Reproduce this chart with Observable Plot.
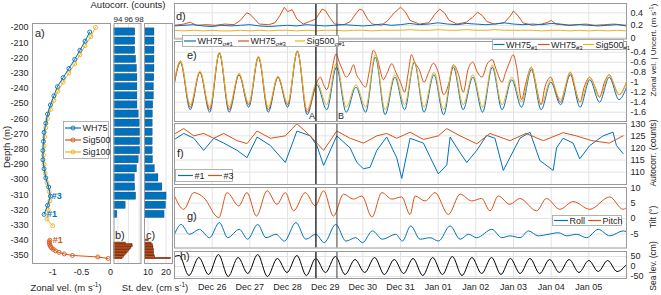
<!DOCTYPE html>
<html><head><meta charset="utf-8">
<script src="https://cdn.jsdelivr.net/npm/d3@7"></script>
<script src="https://cdn.jsdelivr.net/npm/@observablehq/plot@0.6"></script>
<style>
body{margin:0;background:#fff;}
#root{position:relative;width:661px;height:295px;overflow:hidden;background:#fff;font-family:"Liberation Sans",Arial,sans-serif;color:#262626;}
.t{position:absolute;white-space:nowrap;font-size:9.5px;line-height:1;}
.rot{position:absolute;white-space:nowrap;font-size:8.5px;line-height:1;transform:translate(-50%,-50%) rotate(-90deg);}
.lbl{position:absolute;white-space:nowrap;font-size:11px;line-height:1;}
</style></head><body><div id="root"></div>
<script>
// ---------------- DATA ----------------
// Panel a: zonal velocity profiles (depth m, velocity m/s)
const wh75Depth = [-203,-209,-215,-221,-227,-233,-239,-245,-251,-257,-263,-269,-275,-281,-287,-293,-299,-305,-311,-317,-323];
const wh75Vel   = [-0.36,-0.44,-0.53,-0.62,-0.72,-0.82,-0.92,-0.98,-1.04,-1.09,-1.12,-1.15,-1.16,-1.17,-1.17,-1.15,-1.12,-1.07,-1.04,-1.09,-1.15];
const sig100Depth = [-200,-206,-212,-218,-224,-230,-236,-242,-248,-254,-260,-266,-272,-278,-284,-290,-296,-302,-308,-314,-320,-326,-330.5];
const sig100Vel   = [-0.26,-0.34,-0.44,-0.53,-0.62,-0.72,-0.82,-0.91,-0.98,-1.04,-1.09,-1.12,-1.14,-1.15,-1.16,-1.15,-1.13,-1.10,-1.06,-1.05,-1.08,-1.10,-1.00];
const sig500Depth = [-340,-341,-342,-343,-344,-345,-346,-347,-348,-349,-350,-351,-352];
const sig500Vel   = [-1.05,-1.06,-1.06,-1.05,-1.04,-1.02,-0.99,-0.95,-0.89,-0.80,-0.66,-0.22,-0.04];
// Panel b: autocorrelation (counts); panel c: st. dev. (cm/s)
const wh75Autocorr = [97.26,97.26,97.26,97.43,97.59,97.67,97.67,97.67,97.67,97.91,98.09,98.17,98.17,98.17,97.91,97.59,97.18,97.26,97.43,95.45,93.88];
const wh75StDev    = [13.6,13.6,13.6,13.6,13.6,13.5,13.3,13.3,12.9,12.7,12.6,12.6,12.6,12.6,12.8,13.8,15.8,18.0,20.3,20.0,19.2];
const sig500Autocorr = [null,null,95.51,96.74,96.83,96.55,96.36,96.08,95.86,95.61,95.36,95.12,94.86];
const sig500StDev    = [10.5,null,12.0,12.6,13.0,13.0,13.2,13.3,13.4,13.4,13.6,14.0,22.8];
const annotA = [{v:-1.07,d:-311,s:"#3",c:"blue"},{v:-1.15,d:-323,s:"#1",c:"blue"},{v:-1.05,d:-340,s:"#1",c:"red"}];

// Time series: hours since Dec 25 00:00
const eventTimes = [90.1, 103.5]; const eventNames = ["A","B"];
// d) uncertainty (m/s)
const dTimes6 = d3.range(0, 289, 6);
const uncWH75_1 = [0.19,0.2,0.21,0.19,0.18,0.2,0.19,0.2,0.21,0.19,0.18,0.19,0.2,0.19,0.21,0.2,0.19,0.2,0.21,0.2,0.19,0.2,0.22,0.2,0.21,0.23,0.21,0.22,0.24,0.22,0.21,0.23,0.22,0.21,0.22,0.24,0.22,0.21,0.22,0.21,0.23,0.22,0.2,0.21,0.2,0.19,0.2,0.21,0.19];
const uncSig500_1 = [0.12,0.11,0.12,0.11,0.12,0.11,0.11,0.12,0.11,0.12,0.11,0.12,0.12,0.11,0.12,0.11,0.12,0.12,0.11,0.12,0.12,0.11,0.12,0.12,0.12,0.13,0.12,0.12,0.13,0.12,0.12,0.13,0.12,0.12,0.13,0.12,0.12,0.12,0.12,0.11,0.12,0.12,0.11,0.12,0.11,0.12,0.11,0.12,0.11];
const uncWH75_3T = [0,6,10,14,20,26,32,38,42,46,48,51,54,60,64,67,70,72,75,78,82,86,90,92,94,96,99,102,108,112,116,118,120,123,126,132,136,140,144,147,150,156,162,166,169,172,175,180,186,190,193,196,199,204,210,214,216,219,222,228,234,238,240,243,250,256,262,268,274,280,288];
const uncWH75_3 = [0.2,0.22,0.25,0.2,0.21,0.2,0.22,0.21,0.28,0.4,0.38,0.3,0.22,0.21,0.24,0.35,0.49,0.42,0.45,0.3,0.22,0.26,0.3,0.38,0.46,0.44,0.32,0.22,0.21,0.26,0.4,0.46,0.44,0.3,0.22,0.2,0.28,0.4,0.49,0.42,0.28,0.22,0.24,0.38,0.46,0.4,0.28,0.22,0.25,0.33,0.41,0.36,0.26,0.22,0.24,0.35,0.43,0.35,0.24,0.2,0.22,0.25,0.28,0.22,0.2,0.21,0.22,0.2,0.21,0.22,0.2];
// e) zonal velocity (m/s) at tidal extrema
const eTimes = [0,3.8,10,16.2,22.4,28.6,34.8,41.1,47.3,53.5,59.7,65.9,72.1,78.3,84.5,90.7,97,103.2,109.4,115.6,121.8,128,134.2,140.4,146.6,152.8,159,165.3,171.5,177.7,183.9,190.1,196.3,202.5,208.7,214.9,221.1,227.4,233.6,239.8,246,252.2,258.4,264.6,270.8,277,283.2,288];
const velWH75_1 = [-1.0,-0.6,-1.55,-0.8,-1.6,-0.42,-1.6,-0.85,-1.5,-0.5,-1.6,-0.9,-1.5,-0.38,-1.65,-1.05,-1.55,-0.7,-1.6,-1.1,-1.6,-0.5,-1.65,-0.9,-1.55,-0.6,-1.6,-0.85,-1.65,-0.7,-1.55,-0.9,-1.6,-0.7,-1.55,-0.95,-1.5,-0.75,-1.55,-1.0,-1.45,-0.85,-1.5,-0.95,-1.4,-0.9,-1.35,-1.1];
const velSig500_1 = [-0.95,-0.57,-1.45,-0.78,-1.5,-0.4,-1.5,-0.82,-1.42,-0.48,-1.5,-0.88,-1.42,-0.37,-1.55,-1.0,-1.45,-0.62,-1.5,-1.05,-1.5,-0.45,-1.55,-0.85,-1.45,-0.58,-1.5,-0.8,-1.55,-0.65,-1.45,-0.85,-1.5,-0.65,-1.45,-0.9,-1.4,-0.7,-1.45,-0.95,-1.35,-0.8,-1.4,-0.9,-1.3,-0.85,-1.25,-1.0];
const velWH75_3T = [0,3.8,10,16.2,22.4,28.6,34.8,41.1,47.3,53.5,59.7,65.9,72.1,78.3,84.5,88,90.7,93,95,97,100,103,105,107,109.4,112,114,116,118,121.8,124,126.7,129,131,133,135,138.5,141,144,146.6,149,151,153,156,159,162,165,168,171.5,175,177.7,181,184,187,190,193,196,199,202.5,205,208.7,211,213.5,215.8,218,221.1,224,227.4,230,233.6,236,239.8,243,246,249,252.2,255,258.4,261,264.6,268,270.8,274,277,280,283.2,288];
const velWH75_3 = [-1.0,-0.6,-1.5,-0.8,-1.55,-0.42,-1.55,-0.85,-1.45,-0.5,-1.55,-0.9,-1.45,-0.38,-1.6,-1.3,-1.0,-0.9,-1.05,-1.15,-0.8,-0.43,-0.6,-0.75,-0.9,-0.8,-0.65,-0.85,-0.95,-1.1,-0.8,-0.36,-0.5,-0.75,-0.95,-0.85,-0.63,-0.8,-1.0,-1.2,-0.8,-0.45,-0.6,-0.75,-1.0,-0.8,-0.62,-0.8,-1.25,-1.0,-0.65,-0.85,-1.2,-0.75,-0.6,-0.8,-0.9,-0.65,-0.55,-0.75,-1.0,-0.8,-0.6,-0.45,-0.7,-1.35,-1.0,-0.7,-1.0,-1.45,-1.1,-0.9,-1.2,-1.4,-1.1,-0.8,-1.1,-1.4,-1.1,-0.9,-1.1,-1.3,-1.0,-0.85,-1.05,-1.25,-1.0];
// f) autocorrelation (counts)
const acT1 = [0.6,5.9,12.3,18.6,25,31.4,39.9,46.2,52.6,61.1,70.6,78,86.5,90.7,95,103.4,111.9,116.2,120.4,124.6,128.9,135.2,141.6,144.8,150.1,158.6,162.9,168.1,173.5,175.6,182,186.2,192.6,198.9,204.2,209.5,213.7,220.1,226.5,232.8,241.3,243.4,247.6,254,258.2,264.6,273.1,279.4,281.6,285.8];
const acWH75_1 = [123.8,126,124,119,124,122,119,116,124.5,121,114,127,125,121,112.8,125,120,114,111.4,112,119,124.5,116,107.4,124,122,116.2,109.3,113,124.5,118,114,119,125.2,124,110.7,116,124,126.5,114.8,110.7,120,124,122,115.5,121,125,126.5,121,117.7];
const acT3 = [0.6,5.9,12.3,18.6,25,31.4,39.9,46.2,52.6,61.1,70.6,78,86.5,90.7,95,103.4,111.9,120.4,128.9,135.2,141.6,150.1,158.6,168.1,173.5,182,192.6,201,213.7,224,235,247.6,256,266,277,285.8];
const acWH75_3 = [126,128,125,126,124,126,123,121.8,127,124,125,130,125,122,119,127,124,122,125,126,124,126.5,123.5,125,128,125,121.7,126,123,126,123,126.3,125,123,122,125];
// g) tilt (deg)
const pitchT = [0,5.9,12.3,18.6,28.2,33.5,40.9,46.2,52.2,59,65.3,70.6,75.9,83.3,89.7,95,101.3,107.7,114,119.4,125.8,132.1,138.5,144.8,150.1,153.3,159.7,166,174.5,182,189.4,195.7,201,206.3,213.7,220,230.7,237,245.5,254,264.6,277.3,285.8,288];
const pitch = [7.3,3.0,8.4,6.8,0.3,8.4,4.1,8.4,0.8,9.0,4.6,8.4,2.5,8.4,4.1,9.0,0.8,7.9,6.3,7.3,0.5,8.4,6.3,7.0,1.3,7.3,5.7,8.4,1.3,7.9,5.7,6.5,2.5,7.3,4.6,6.5,2.5,6.5,3.0,5.5,3.0,7.0,3.0,3.5];
const rollT = [0,4.2,9.5,15.9,22.3,28.6,33.9,41.3,46.6,53,58.3,64.7,70,77.4,83.7,90.1,95.4,102.8,109.2,115.5,119.8,126.1,132.5,141,145.2,150.5,156.5,162.9,168.2,175.6,182,187.3,192.6,202.2,208.5,213.8,220.2,225.5,231.8,238.2,244.6,249.9,256.2,262.6,270,277.4,285.9,288];
const roll = [-5.1,-1.9,-5.1,-3.5,-6.2,-1.3,-6.2,-3.5,-6.7,-1.9,-6.2,-5.1,-7.3,-1.3,-6.7,-5.1,-7.8,-1.9,-7.3,-6.2,-7.8,-4.0,-6.7,-5.1,-7.3,-2.4,-6.7,-6.2,-7.3,-2.4,-6.7,-5.1,-6.2,-3.5,-6.2,-5.6,-6.2,-4.0,-5.6,-5.1,-4.6,-5.6,-5.1,-6.2,-3.5,-5.6,-4.0,-4.3];
// h) sea level (cm) at extrema
const seaT = [0,3,9.2,15.5,21.7,28,34.2,40.5,46.7,53,59.2,65.5,71.7,78,84,90,96.2,102.5,108.7,115,121.2,127.5,133.7,140,146,152,158.2,164.5,170.7,177,183.2,189.5,195.7,202,208,214,220.2,226.5,232.7,239,245.2,251.5,257.7,264,270,276,282,288];
const seaLev = [50,55,-45,45,-40,60,-50,45,-35,60,-50,40,-30,55,-45,40,-30,50,-40,35,-30,45,-40,35,-35,40,-45,45,-40,50,-45,45,-35,45,-40,40,-35,40,-35,35,-30,35,-30,30,-25,30,-25,10];
// tick values
const dayTicksH = d3.range(24, 265, 24);

// ---------------- HELPERS ----------------
const root = document.getElementById("root");
const C = {blue:"#0072BD", red:"#D95319", yellow:"#EDB120", black:"#000"};
const T0 = Date.UTC(2017, 11, 25);
const toDate = h => new Date(T0 + h * 3600e3);
const fmt = d => String(d);
const FONT = '"Liberation Sans", Arial, sans-serif';
const GRID = "#e3e3e3", FRAME = "#9a9a9a";
function place(node, left, top) {
  node.style.position = "absolute"; node.style.left = left + "px"; node.style.top = top + "px";
  root.appendChild(node);
}
function text(cls, html, x, y, extra = "") {
  const d = document.createElement("div"); d.className = cls; d.innerHTML = html;
  d.style.cssText += `left:${x}px;top:${y}px;` + extra; root.appendChild(d); return d;
}
const series = (T, V) => T.map((t, i) => ({t: toDate(t), v: V[i]})).filter(d => d.v != null);
const dayTicks = dayTicksH.map(toDate);
const events = eventTimes.map((t, i) => ({t: toDate(t), n: eventNames[i]}));

function tsPanel({top, bottom, domain, ticks, marks, xAxis = false}) {
  const mt = 1, mb = xAxis ? 20 : 1;
  const svg = Plot.plot({
    width: 661, height: bottom - top + mt + mb,
    marginLeft: 174, marginRight: 35, marginTop: mt, marginBottom: mb,
    style: {background: "transparent", fontFamily: FONT, fontSize: "9px", color: "#262626", overflow: "visible"},
    x: {type: "utc", domain: [toDate(0), toDate(288)], axis: null},
    y: {domain, axis: null},
    marks: [
      Plot.gridX(dayTicks, {stroke: GRID, strokeOpacity: 1}),
      Plot.gridY(ticks, {stroke: GRID, strokeOpacity: 1}),
      ...marks,
      Plot.ruleX(events, {x: "t", stroke: "#3c3c3c", strokeWidth: (d) => d.n === "A" ? 1.6 : 1}),
      Plot.frame({stroke: FRAME}),
      Plot.axisY(ticks, {anchor: "right", tickSize: 0, tickPadding: 4, tickFormat: fmt, label: null}),
      xAxis ? Plot.axisX(dayTicks, {anchor: "bottom", tickSize: 0, tickPadding: 5, tickFormat: d3.utcFormat("%b %d"), label: null}) : null
    ]
  });
  place(svg, 0, top - mt);
}
const ln = (data, color, curve = "linear", w = 1) => Plot.line(data, {x: "t", y: "v", stroke: color, strokeWidth: w, curve});

// ---------------- PANEL a ----------------
const prof = (D, V) => D.map((d, i) => ({d, v: V[i]}));
const pW = prof(wh75Depth, wh75Vel), pS1 = prof(sig100Depth, sig100Vel), pS5 = prof(sig500Depth, sig500Vel);
const yDepth = {domain: [-355.3, -197.4], axis: null};
place(Plot.plot({
  width: 112, height: 295, marginLeft: 32, marginRight: 2, marginTop: 23, marginBottom: 32,
  style: {background: "transparent", fontFamily: FONT, fontSize: "9px", color: "#262626", overflow: "visible"},
  x: {domain: [-1.35, 0], axis: null}, y: yDepth,
  marks: [
    Plot.line(pS1, {x: "v", y: "d", stroke: C.yellow, strokeWidth: 1}),
    Plot.dot(pS1, {x: "v", y: "d", r: 2, stroke: C.yellow, strokeWidth: 0.9}),
    Plot.line(pW, {x: "v", y: "d", stroke: C.blue, strokeWidth: 1}),
    Plot.dot(pW, {x: "v", y: "d", r: 2, stroke: C.blue, strokeWidth: 0.9}),
    Plot.line(pS5, {x: "v", y: "d", stroke: C.red, strokeWidth: 1}),
    Plot.dot(pS5, {x: "v", y: "d", r: 2, stroke: C.red, strokeWidth: 0.9}),
    Plot.text(annotA, {x: "v", y: "d", text: "s", fill: d => C[d.c], dx: 3, textAnchor: "start", fontSize: 9, fontWeight: "bold"}),
    Plot.frame({stroke: FRAME}),
    Plot.axisX([-1, -0.5, 0], {tickSize: 0, tickPadding: 5, tickFormat: fmt, label: null}),
    Plot.axisY(d3.range(-350, -199, 10), {anchor: "left", tickSize: 0, tickPadding: 4, tickFormat: fmt, label: null})
  ]
}), 0, 0);

// ---------------- PANELS b, c ----------------
const bars = (D, V, half) => D.map((d, i) => ({d1: d - half, d2: d + half, v: V[i]})).filter(r => r.v != null);
place(Plot.plot({
  width: 34, height: 295, marginLeft: 3.5, marginRight: 3.5, marginTop: 23, marginBottom: 32,
  style: {background: "transparent", fontFamily: FONT, fontSize: "8px", color: "#262626", overflow: "visible"},
  x: {domain: [93.25, 98.34], axis: null}, y: yDepth,
  marks: [
    Plot.gridX([94, 96, 98], {stroke: GRID, strokeOpacity: 1}),
    Plot.rectX(bars(wh75Depth, wh75Autocorr, 2.4), {x1: 0, x2: "v", y1: "d1", y2: "d2", fill: C.blue, stroke: "#1b3550", strokeWidth: 0.3, clip: true}),
    Plot.rectX(bars(sig500Depth, sig500Autocorr, 0.5), {x1: 0, x2: "v", y1: "d1", y2: "d2", fill: C.red, stroke: "#3a1a08", strokeWidth: 0.45, clip: true}),
    Plot.frame({stroke: FRAME}),
    Plot.axisX([94, 96, 98], {anchor: "top", tickSize: 0, tickPadding: 2, tickFormat: fmt, label: null})
  ]
}), 110, 0);
place(Plot.plot({
  width: 34, height: 295, marginLeft: 3, marginRight: 3, marginTop: 23, marginBottom: 32,
  style: {background: "transparent", fontFamily: FONT, fontSize: "9px", color: "#262626", overflow: "visible"},
  x: {domain: [8.06, 23.6], axis: null}, y: yDepth,
  marks: [
    Plot.gridX([10, 20], {stroke: GRID, strokeOpacity: 1}),
    Plot.rectX(bars(wh75Depth, wh75StDev, 2.4), {x1: 0, x2: "v", y1: "d1", y2: "d2", fill: C.blue, stroke: "#1b3550", strokeWidth: 0.3, clip: true}),
    Plot.rectX(bars(sig500Depth, sig500StDev, 0.5), {x1: 0, x2: "v", y1: "d1", y2: "d2", fill: C.red, stroke: "#3a1a08", strokeWidth: 0.45, clip: true}),
    Plot.frame({stroke: FRAME}),
    Plot.axisX([10, 20], {tickSize: 0, tickPadding: 5, tickFormat: fmt, label: null})
  ]
}), 141, 0);

// ---------------- PANELS d-h ----------------
tsPanel({top: 3, bottom: 38.5, domain: [-0.02, 0.55], ticks: [0, 0.2, 0.4], marks: [
  ln(series(dTimes6, uncSig500_1), C.yellow), ln(series(uncWH75_3T, uncWH75_3), C.red), ln(series(dTimes6, uncWH75_1), C.blue)]});
tsPanel({top: 41, bottom: 121, domain: [-1.786, -0.186], ticks: [-1.6, -1.4, -1.2, -1, -0.8, -0.6, -0.4], marks: [
  ln(series(eTimes, velWH75_1), C.blue, "monotone-x"), ln(series(velWH75_3T, velWH75_3), C.red, "monotone-x"), ln(series(eTimes, velSig500_1), C.yellow, "monotone-x")]});
tsPanel({top: 123, bottom: 184, domain: [104.9, 130.1], ticks: [110, 115, 120, 125, 130], marks: [
  ln(series(acT1, acWH75_1), C.blue), ln(series(acT3, acWH75_3), C.red)]});
tsPanel({top: 186.5, bottom: 247, domain: [-9.54, 10.06], ticks: [-5, 0, 5, 10], marks: [
  ln(series(pitchT, pitch), C.red, "monotone-x"), ln(series(rollT, roll), C.blue, "monotone-x")]});
tsPanel({top: 251, bottom: 278, domain: [-60, 75], ticks: [-50, 0, 50], xAxis: true, marks: [
  ln(series(seaT, seaLev), C.black, "monotone-x")]});

// ---------------- LEGENDS (svg overlays) ----------------
function legendSVG(x, y, w, h, items) {
  const ns = "http://www.w3.org/2000/svg";
  const s = document.createElementNS(ns, "svg");
  s.setAttribute("width", w); s.setAttribute("height", h);
  s.style.cssText = `position:absolute;left:${x}px;top:${y}px;overflow:visible;font-family:${FONT};`;
  let html = `<rect x="0.5" y="0.5" width="${w - 1}" height="${h - 1}" fill="#fff" stroke="#a0a0a0" stroke-width="0.8"/>`;
  for (const it of items) {
    html += `<line x1="${it.x1}" x2="${it.x2}" y1="${it.y}" y2="${it.y}" stroke="${it.c}" stroke-width="1.2"/>`;
    if (it.m) html += `<circle cx="${(it.x1 + it.x2) / 2}" cy="${it.y}" r="2" fill="none" stroke="${it.c}" stroke-width="0.9"/>`;
    html += `<text x="${it.x2 + 1.5}" y="${it.y + 3.2}" font-size="9" fill="#262626">${it.t}${it.sub ? `<tspan font-size="6" dy="1.8">${it.sub}</tspan>` : ""}</text>`;
  }
  s.innerHTML = html; root.appendChild(s);
}
legendSVG(182, 35, 157, 12, [
  {x1: 2, x2: 14, y: 6, c: C.blue, t: "WH75", sub: "σ#1"},
  {x1: 56, x2: 67, y: 6, c: C.red, t: "WH75", sub: "σ#3"},
  {x1: 113, x2: 123, y: 6, c: C.yellow, t: "Sig500", sub: "σ#1"}]);
legendSVG(492, 38.5, 132, 11, [
  {x1: 1.5, x2: 12.5, y: 5.5, c: C.blue, t: "WH75", sub: "#1"},
  {x1: 46, x2: 57.5, y: 5.5, c: C.red, t: "WH75", sub: "#3"},
  {x1: 91, x2: 102, y: 5.5, c: C.yellow, t: "Sig500", sub: "#1"}]);
legendSVG(175, 169, 58, 13, [
  {x1: 3, x2: 18, y: 6.5, c: C.blue, t: "#1"},
  {x1: 33, x2: 47, y: 6.5, c: C.red, t: "#3"}]);
legendSVG(552, 214.5, 70, 11, [
  {x1: 2, x2: 16, y: 5.5, c: C.blue, t: "Roll"},
  {x1: 36, x2: 49, y: 5.5, c: C.red, t: "Pitch"}]);
legendSVG(63, 121, 46, 38, [
  {x1: 2, x2: 18, y: 7, c: C.blue, t: "WH75", m: true},
  {x1: 2, x2: 18, y: 19, c: C.red, t: "Sig500", m: true},
  {x1: 2, x2: 18, y: 31, c: C.yellow, t: "Sig100", m: true}]);

// ---------------- TEXT ----------------
text("lbl", "a)", 35, 28);
text("lbl", "b)", 115, 230);
text("lbl", "c)", 146, 230);
text("lbl", "d)", 176, 11);
text("lbl", "e)", 187, 50);
text("lbl", "f)", 177, 148);
text("lbl", "g)", 187, 211);
text("lbl", "h)", 180, 251);
text("t", "A", 309, 112, "font-size:9px;");
text("t", "B", 338, 112, "font-size:9px;");
text("t", "Autocorr. (counts)", 128, 5, "transform:translate(-50%,-50%);");
text("t", "Zonal vel. (m s<sup style='font-size:6.5px'>-1</sup>)", 66, 287, "transform:translate(-50%,-50%);");
text("t", "St. dev. (cm s<sup style='font-size:6.5px'>-1</sup>)", 155, 287, "transform:translate(-50%,-50%);");
text("rot", "Depth (m)", 7, 147, "font-size:9.5px;");
text("rot", "Zonal vel. | Uncert. (m s<sup style='font-size:6px'>-1</sup>)", 653, 50, "font-size:8px;");
text("rot", "Autocorr. (counts)", 653, 153);
text("rot", "Tilt (°)", 653, 217);
text("rot", "Sea lev. (cm)", 653, 266);
</script></body></html>
